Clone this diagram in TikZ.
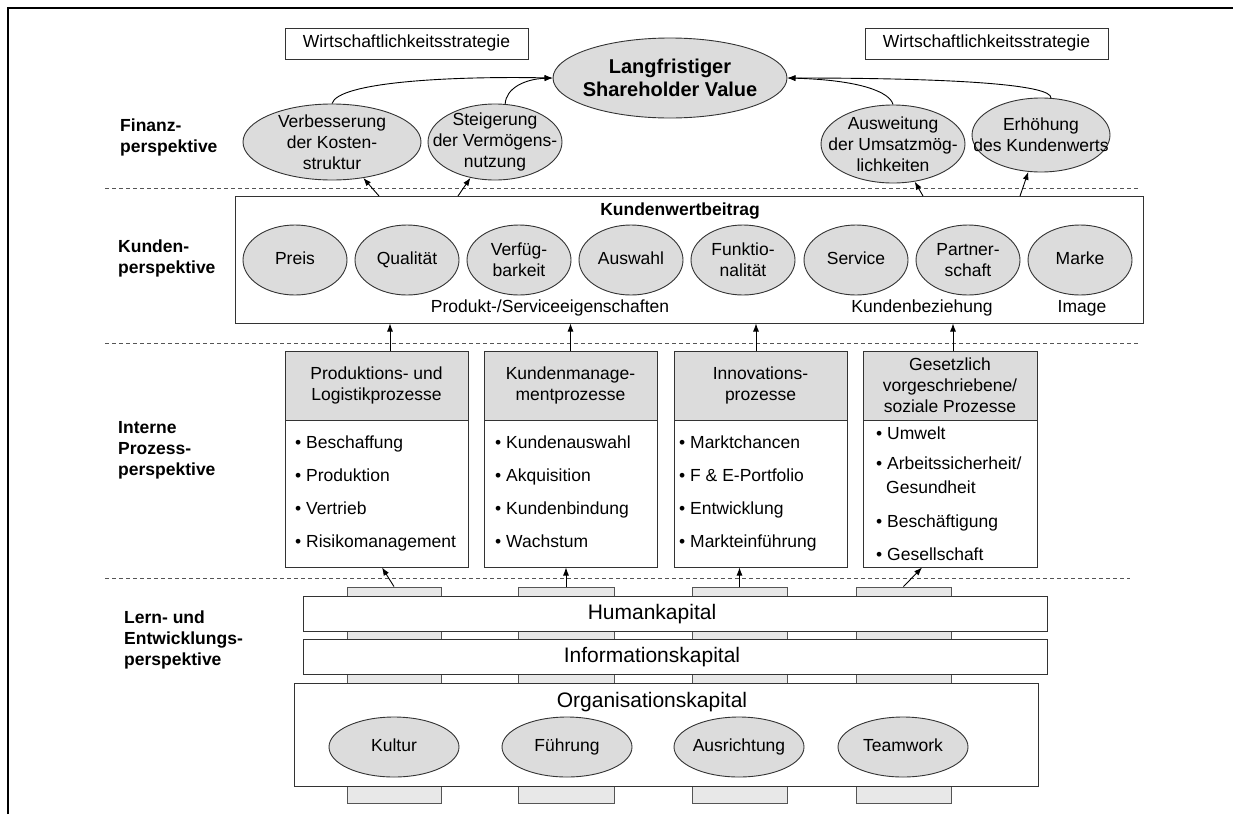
\documentclass[tikz,border=0pt]{standalone}
\usepackage{fontspec}
\setmainfont{Liberation Sans}
\usetikzlibrary{shapes.geometric,arrows.meta}
\definecolor{ovalgray}{HTML}{DCDCDC}
\definecolor{pillargray}{HTML}{E8E8E8}
\definecolor{edgegray}{HTML}{333333}
\definecolor{dashgray}{HTML}{555555}
\begin{document}
\begin{tikzpicture}[x=1pt,y=-1pt,
  every node/.style={font=\fontsize{17.5}{21}\selectfont, inner sep=0pt, text=black},
  oval/.style={ellipse, draw=edgegray, line width=0.9pt, fill=ovalgray},
  multi/.style={align=center},
  oneline/.style={text height=12.6pt, text depth=3.7pt},
  plainbox/.style={draw=edgegray, line width=1pt, fill=white},
  headbox/.style={draw=edgegray, line width=1pt, fill=ovalgray, align=center},
  pillar/.style={draw=dashgray, line width=0.9pt, fill=pillargray},
  arr/.style={-{Latex[length=8pt,width=6pt]}, line width=0.9pt, draw=black},
  divider/.style={draw=dashgray, dash pattern=on 4pt off 3pt, line width=0.9pt},
  persp/.style={font=\fontsize{17.5}{21}\selectfont\bfseries, align=left, anchor=north west},
  item/.style={anchor=mid west},
  capital/.style={font=\fontsize{21}{24}\selectfont, text height=15pt, text depth=4.4pt},
]
\useasboundingbox (0,0) rectangle (1233,814);

% frame (top and left edges)
\draw[line width=2.6pt] (8,814) -- (8,8) -- (1233,8);

% perspective separators
\draw[divider] (105,188) -- (1140,188);
\draw[divider] (105,343) -- (1140,343);
\draw[divider] (105,578) -- (1130,578);

% perspective labels
\node[persp] (lfin) at (120,119) {Finanz-\\perspektive};
\node[persp] (lkun) at (118,240) {Kunden-\\perspektive};
\node[persp] (lint) at (118,421) {Interne\\Prozess-\\perspektive};
\node[persp] (llern) at (124,611) {Lern- und\\Entwicklungs-\\perspektive};

% ---------------- financial perspective
\node[plainbox, oneline, minimum width=243, minimum height=31] (ws1) at (406.5,43.5) {Wirtschaftlichkeitsstrategie};
\node[plainbox, oneline, minimum width=243, minimum height=31] (ws2) at (986.5,43.5) {Wirtschaftlichkeitsstrategie};

\node[oval, minimum width=234, minimum height=80] (sv) at (670,78) {};
\node[multi, font=\fontsize{20}{23}\selectfont\bfseries] (svt) at (sv) {Langfristiger\\Shareholder Value};

\node[oval, minimum width=178, minimum height=76] (verb) at (332,142) {};
\node[multi] (verbt) at (verb) {Verbesserung\\der Kosten-\\struktur};
\node[oval, minimum width=134, minimum height=76] (stg) at (495,142) {};
\node[multi] (stgt) at (stg) {Steigerung\\der Vermögens-\\nutzung};
\node[oval, minimum width=144, minimum height=78] (ausw) at (893,144) {};
\node[multi] (auswt) at (ausw) {Ausweitung\\der Umsatzmög-\\lichkeiten};
\node[oval, minimum width=138, minimum height=74] (erh) at (1041,135) {};
\node[multi] (erht) at (erh) {Erhöhung\\des Kundenwerts};

\draw[arr] (verb.north) .. controls (338,82) and (450,76) .. (sv.west);
\draw[arr] (stg.75) .. controls (506,88) and (525,79) .. (sv.west);
\draw[arr] (ausw.north) .. controls (890,92) and (860,80) .. (sv.east);
\draw[arr] (erh.75) .. controls (1052,85) and (960,78) .. (sv.east);

% ---------------- customer perspective
\node[plainbox, minimum width=908, minimum height=127] (kbox) at (689,259.5) {};
\node[oneline, font=\fontsize{17.5}{21}\selectfont\bfseries] (kwb) at (680,211) {Kundenwertbeitrag};

\node[oval, minimum width=104, minimum height=70] (k1) at (295,260) {};
\node[oneline] (k1t) at (k1) {Preis};
\node[oval, minimum width=104, minimum height=70] (k2) at (407,260) {};
\node[oneline] (k2t) at (k2) {Qualität};
\node[oval, minimum width=104, minimum height=70] (k3) at (519,260) {};
\node[multi] (k3t) at (k3) {Verfüg-\\barkeit};
\node[oval, minimum width=104, minimum height=70] (k4) at (631,260) {};
\node[oneline] (k4t) at (k4) {Auswahl};
\node[oval, minimum width=104, minimum height=70] (k5) at (743,260) {};
\node[multi] (k5t) at (k5) {Funktio-\\nalität};
\node[oval, minimum width=104, minimum height=70] (k6) at (856,260) {};
\node[oneline] (k6t) at (k6) {Service};
\node[oval, minimum width=104, minimum height=70] (k7) at (968,260) {};
\node[multi] (k7t) at (k7) {Partner-\\schaft};
\node[oval, minimum width=104, minimum height=70] (k8) at (1080,260) {};
\node[oneline] (k8t) at (k8) {Marke};

\node[oneline] (kpe) at (550,308) {Produkt-/Serviceeigenschaften};
\node[oneline] (kbz) at (922,308) {Kundenbeziehung};
\node[oneline] (kim) at (1082,308) {Image};

\coordinate (ku1) at (379,196);
\coordinate (ku2) at (458,196);
\coordinate (ku3) at (923,196);
\coordinate (ku4) at (1020,196);
\draw[arr] (ku1) -- (verb);
\draw[arr] (ku2) -- (stg);
\draw[arr] (ku3) -- (ausw);
\draw[arr] (ku4) -- (erh);

% ---------------- internal process perspective
\node[headbox, minimum width=183, minimum height=69] (p1h) at (376.5,385.5) {Produktions- und\\Logistikprozesse};
\node[plainbox, minimum width=183, minimum height=147] (p1b) at (376.5,493.5) {};
\node[headbox, minimum width=173, minimum height=69] (p2h) at (570.5,385.5) {Kundenmanage-\\mentprozesse};
\node[plainbox, minimum width=173, minimum height=147] (p2b) at (570.5,493.5) {};
\node[headbox, minimum width=173, minimum height=69] (p3h) at (760.5,385.5) {Innovations-\\prozesse};
\node[plainbox, minimum width=173, minimum height=147] (p3b) at (760.5,493.5) {};
\node[headbox, minimum width=174, minimum height=69] (p4h) at (950,385.5) {Gesetzlich\\vorgeschriebene/\\soziale Prozesse};
\node[plainbox, minimum width=174, minimum height=147] (p4b) at (950,493.5) {};

\node[item] (i11) at (295,446) {• Beschaffung};
\node[item] (i12) at (295,479) {• Produktion};
\node[item] (i13) at (295,512) {• Vertrieb};
\node[item] (i14) at (295,545) {• Risikomanagement};

\node[item] (i21) at (495,446) {• Kundenauswahl};
\node[item] (i22) at (495,479) {• Akquisition};
\node[item] (i23) at (495,512) {• Kundenbindung};
\node[item] (i24) at (495,545) {• Wachstum};

\node[item] (i31) at (679,446) {• Marktchancen};
\node[item] (i32) at (679,479) {• F \& E-Portfolio};
\node[item] (i33) at (679,512) {• Entwicklung};
\node[item] (i34) at (679,545) {• Markteinführung};

\node[item] (i41) at (876,437) {• Umwelt};
\node[item] (i42) at (876,467) {• Arbeitssicherheit/};
\node[item] (i43) at (886,491) {Gesundheit};
\node[item] (i44) at (876,525) {• Beschäftigung};
\node[item] (i45) at (876,558) {• Gesellschaft};

\draw[arr] ([xshift=13.5]p1h.north) -- ([xshift=13.5]p1h.north |- kbox.south);
\draw[arr] (p2h.north) -- (p2h.north |- kbox.south);
\draw[arr] ([xshift=-4.5]p3h.north) -- ([xshift=-4.5]p3h.north |- kbox.south);
\draw[arr] ([xshift=3]p4h.north) -- ([xshift=3]p4h.north |- kbox.south);

% ---------------- learning and growth perspective
\node[pillar, minimum width=94, minimum height=216] (pil1) at (394,695) {};
\node[pillar, minimum width=96, minimum height=216] (pil2) at (566,695) {};
\node[pillar, minimum width=95, minimum height=216] (pil3) at (739.5,695) {};
\node[pillar, minimum width=95, minimum height=216] (pil4) at (903.5,695) {};

\node[plainbox, minimum width=744, minimum height=35] (hk) at (675,613.5) {};
\node[capital] (hkt) at (652,614) {Humankapital};
\node[plainbox, minimum width=744, minimum height=35] (ik) at (675,656.5) {};
\node[capital] (ikt) at (652,657) {Informationskapital};
\node[plainbox, minimum width=744, minimum height=103] (ok) at (666,734.5) {};
\node[capital] (okt) at (652,702) {Organisationskapital};

\node[oval, minimum width=130, minimum height=60] (o1) at (394,747) {};
\node[oneline] (o1t) at (o1) {Kultur};
\node[oval, minimum width=130, minimum height=60] (o2) at (567,747) {};
\node[oneline] (o2t) at (o2) {Führung};
\node[oval, minimum width=130, minimum height=60] (o3) at (739,747) {};
\node[oneline] (o3t) at (o3) {Ausrichtung};
\node[oval, minimum width=130, minimum height=60] (o4) at (903,747) {};
\node[oneline] (o4t) at (o4) {Teamwork};

\draw[arr] (pil1.north) -- ([xshift=5.5]p1b.south);
\draw[arr] (pil2.north) -- (pil2.north |- p2b.south);
\draw[arr] (pil3.north) -- (pil3.north |- p3b.south);
\draw[arr] (pil4.north) -- ([xshift=-28]p4b.south);
\end{tikzpicture}
\end{document}
